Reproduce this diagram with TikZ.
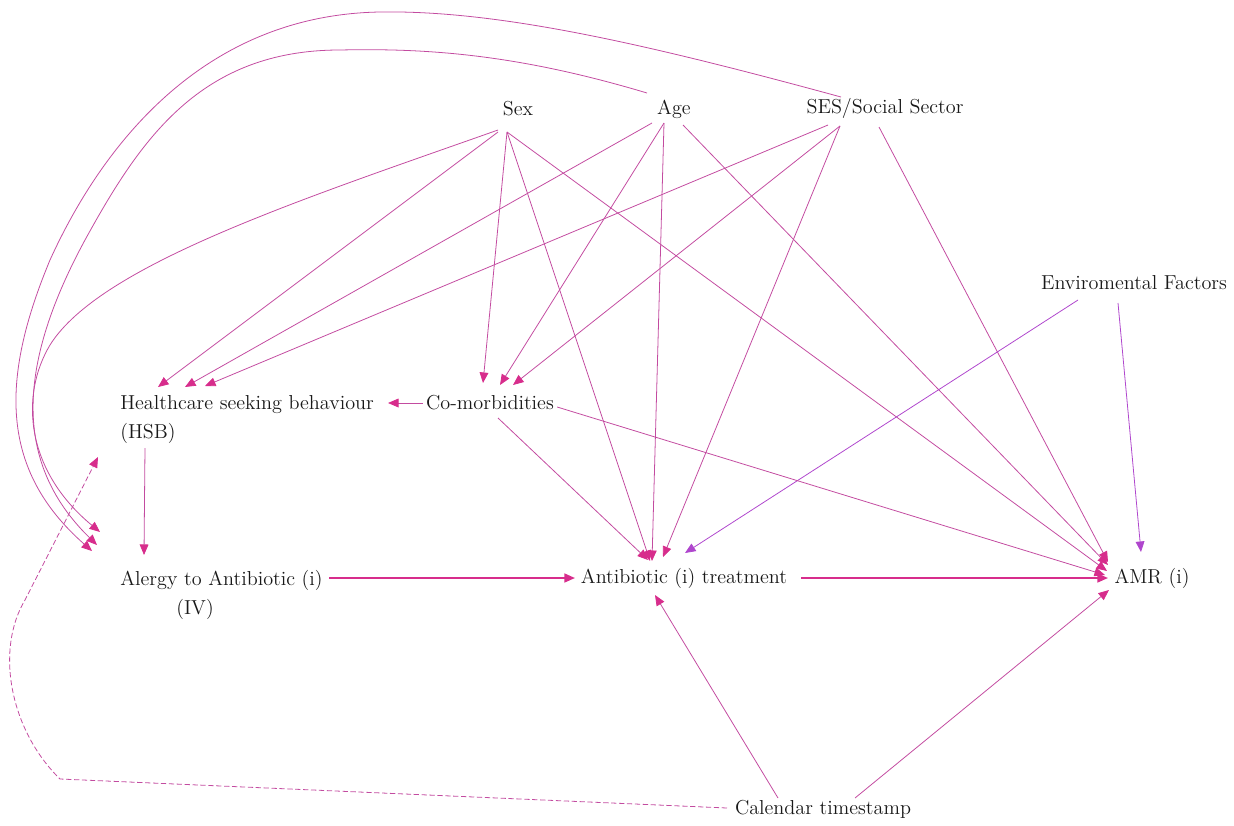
\documentclass[tikz,border=0pt]{standalone}
\usepackage{tikz}
\usetikzlibrary{arrows.meta}
\definecolor{dagline}{RGB}{195,75,160}
\definecolor{dagpink}{RGB}{215,45,140}
\definecolor{dagviolet}{RGB}{175,70,205}
\tikzset{lbl/.style={font=\fontsize{11.5}{16.5}\selectfont, inner sep=0pt, text=black!90},
arr/.style={draw=dagline, line width=0.45pt, -{Triangle[length=6pt,width=5pt,color=dagpink]}},
%violet ones come out of the environment
envarr/.style={draw=dagviolet, line width=0.45pt, -{Triangle[length=6pt,width=5pt,color=dagviolet]}},
mainarr/.style={arr, draw=dagpink, line width=1.1pt},
dasharr/.style={arr, dash pattern=on 3pt off 1.5pt}}

\begin{document}
\begin{tikzpicture}[x=0.02cm,y=-0.02cm]
    \useasboundingbox (0,0) rectangle (1234,825);

    \node[lbl] (sex) at (518,109) {Sex};
    \node[lbl] (age) at (674,109) {Age};
    \node[lbl] (ses) at (885,108) {SES/Social Sector};
    \node[lbl] (env) at (1134,283) {Enviromental Factors};

    \node[lbl, anchor=north west, align=left] (hsb) at (120,395) {Healthcare seeking behaviour\\(HSB)};
    \node[lbl] (comorb) at (490,403) {Co-morbidities};

    \node[lbl, anchor=north west, align=left] (alergy) at (120,570) {Alergy to Antibiotic (i)\\\hspace*{1.12cm}(IV)};
    \node[lbl] (abt) at (684,578) {Antibiotic (i) treatment};
    \node[lbl] (amr) at (1152,578) {AMR (i)};

    \node[lbl] (cal) at (823,809) {Calendar timestamp};

    % long arcs round the left side
    \draw[arr] ([shift={(-44,-11)}]ses.center) .. controls (650,45) and (500,10) .. (380,12)
        .. controls (200,15) and (100,150) .. (50,260)
        .. controls (0,380) and (0,470) .. ([shift={(-28,-19)}]alergy.north west);
    \draw[arr] ([shift={(-27,-16)}]age.center) .. controls (520,55) and (430,48) .. (340,50)
        .. controls (200,50) and (140,140) .. (85,240)
        .. controls (20,360) and (10,460) .. ([shift={(-23,-25)}]alergy.north west);
    \draw[arr] ([shift={(-20,21)}]sex.center) .. controls (300,200) and (100,265) .. (50,345)
        .. controls (20,395) and (25,470) .. ([shift={(-20,-38)}]alergy.north west);

    % sex
    \draw[arr] ([shift={(-20,23)}]sex.center) -- ([shift={(38,-8)}]hsb.north west);
    \draw[arr] ([shift={(-11,23)}]sex.center) -- ([shift={(-7,-20)}]comorb.center);
    \draw[arr] ([shift={(-11,23)}]sex.center) -- ([shift={(-34,-17)}]abt.center);
    \draw[arr] ([shift={(-11,23)}]sex.center) -- ([shift={(-45,-7)}]amr.center);

    % age
    \draw[arr] ([shift={(-22,14)}]age.center) -- ([shift={(65,-8)}]hsb.north west);
    \draw[arr] ([shift={(-10,14)}]age.center) -- ([shift={(10,-18)}]comorb.center);
    \draw[arr] ([shift={(-10,14)}]age.center) -- ([shift={(-32,-17)}]abt.center);
    \draw[arr] ([shift={(9,16)}]age.center) -- ([shift={(-44,-13)}]amr.center);

    % ses
    \draw[arr] ([shift={(-57,17)}]ses.center) -- ([shift={(85,-9)}]hsb.north west);
    \draw[arr] ([shift={(-45,18)}]ses.center) -- ([shift={(23,-18)}]comorb.center);
    \draw[arr] ([shift={(-45,18)}]ses.center) -- ([shift={(-21,-21)}]abt.center);
    \draw[arr] ([shift={(-6,19)}]ses.center) -- ([shift={(-44,-16)}]amr.center);

    % environment
    \draw[envarr] ([shift={(-56,17)}]env.center) -- ([shift={(1,-25)}]abt.center);
    \draw[envarr] ([shift={(-16,20)}]env.center) -- ([shift={(-11,-26)}]amr.center);

    % co-morbidities
    \draw[arr] ([shift={(-3,0)}]comorb.west) -- ([shift={(268,8)}]hsb.north west);
    \draw[arr] ([shift={(8,15)}]comorb.center) -- ([shift={(-36,-18)}]abt.center);
    \draw[arr] ([shift={(3,4)}]comorb.east) -- ([shift={(-47,-3)}]amr.center);

    \draw[arr] ([shift={(25,53)}]hsb.north west) -- ([shift={(24,-15)}]alergy.north west);

    \draw[mainarr] ([shift={(209,8)}]alergy.north west) -- ([shift={(-109,0)}]abt.center);
    \draw[mainarr] ([shift={(117,0)}]abt.center) -- ([shift={(-44,0)}]amr.center);

    % calendar
    \draw[arr] ([shift={(-45,-11)}]cal.center) -- ([shift={(-29,17)}]abt.center);
    \draw[arr] ([shift={(32,-11)}]cal.center) -- ([shift={(-43,12)}]amr.center);
    \draw[dasharr] ([shift={(-96,-1)}]cal.center) -- (60,779)
        .. controls (10,730) and (-5,650) .. (25,600) -- ([shift={(-22,62)}]hsb.north west);

  \end{tikzpicture}
\end{document}
